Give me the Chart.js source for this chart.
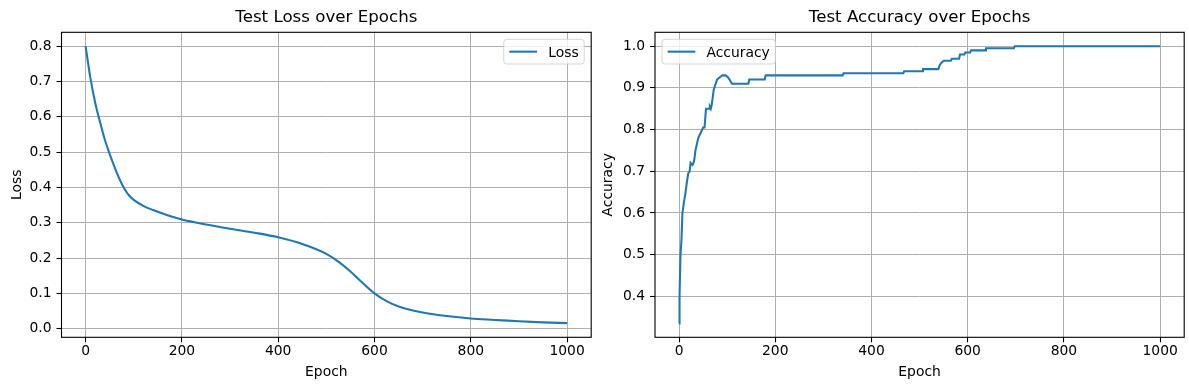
<!DOCTYPE html>
<html>
<head>
<meta charset="utf-8">
<title>Test Loss / Accuracy</title>
<script src="https://cdn.jsdelivr.net/npm/chart.js@4.4.0/dist/chart.umd.min.js"></script>
<style>
  html, body { margin: 0; padding: 0; background: #fff; }
  #wrap { position: relative; width: 1189px; height: 390px; }
  canvas { position: absolute; top: 0; }
</style>
</head>
<body>
<div id="wrap">
  <canvas id="loss-chart" width="595" height="390" style="left:0"></canvas>
  <canvas id="acc-chart" width="594" height="390" style="left:595px"></canvas>
</div>
<script>
// values
const lossEpochs = [0, 10, 20, 30, 40, 50, 60, 70, 80, 90, 100, 120, 140, 160, 180, 200, 250, 300, 350, 400, 450, 500, 525, 550, 575, 600, 625, 650, 700, 750, 800, 850, 900, 950, 1000];
const lossValues = [0.800, 0.710, 0.640, 0.585, 0.535, 0.495, 0.458, 0.425, 0.398, 0.378, 0.365, 0.348, 0.336, 0.326, 0.317, 0.309, 0.295, 0.283, 0.272, 0.259, 0.240, 0.212, 0.190, 0.162, 0.130, 0.100, 0.078, 0.063, 0.046, 0.036, 0.029, 0.025, 0.021, 0.018, 0.016];

const accEpochs = [0, 1, 3, 5, 7, 10, 13, 17, 19, 22, 24, 28, 30, 32, 34, 37, 40, 44, 48, 50, 53, 56, 63, 64, 66, 68, 72, 76, 79, 84, 90, 97, 102, 105, 110, 144, 146, 178, 180, 340, 342, 466, 468, 505, 507, 539, 542, 545, 550, 565, 567, 582, 584, 593, 595, 605, 607, 636, 638, 696, 698, 1000];
const accValues = [0.335, 0.40, 0.50, 0.535, 0.60, 0.625, 0.645, 0.68, 0.695, 0.70, 0.72, 0.715, 0.72, 0.73, 0.75, 0.765, 0.78, 0.79, 0.80, 0.805, 0.805, 0.85, 0.85, 0.855, 0.85, 0.86, 0.895, 0.91, 0.92, 0.925, 0.93, 0.93, 0.925, 0.92, 0.91, 0.91, 0.92, 0.92, 0.93, 0.93, 0.935, 0.935, 0.94, 0.94, 0.945, 0.945, 0.955, 0.96, 0.965, 0.965, 0.97, 0.97, 0.98, 0.98, 0.985, 0.985, 0.99, 0.99, 0.995, 0.995, 1.0, 1.0];

const epochTicks = [0, 200, 400, 600, 800, 1000];
const lossTicks = [0.0, 0.1, 0.2, 0.3, 0.4, 0.5, 0.6, 0.7, 0.8];
const accTicks = [0.4, 0.5, 0.6, 0.7, 0.8, 0.9, 1.0];

const FONT = "'DejaVu Sans', sans-serif";
const BLUE = "#1f77b4";
const SMALL = 13.89;
const LARGE = 16.67;

// matplotlib-like frame round the axes
const spines = {
  id: "spines",
  afterDraw(chart) {
    const { ctx, chartArea: a } = chart;
    ctx.save();
    ctx.strokeStyle = "#000";
    ctx.lineWidth = 1.1;
    ctx.strokeRect(a.left, a.top, a.right - a.left, a.bottom - a.top);
    ctx.restore();
  },
};

// legend box drawn inside the axes, as matplotlib does
const insideLegend = {
  id: "insideLegend",
  afterDatasetsDraw(chart, args, opts) {
    const { ctx, chartArea: a } = chart;
    const ds = chart.data.datasets[0];
    ctx.save();
    ctx.font = SMALL + "px " + FONT;
    const textW = ctx.measureText(ds.label).width;
    const pad = 0.4 * SMALL, handle = 2 * SMALL, gap = 0.8 * SMALL;
    const w = pad + handle + gap + textW + pad;
    const h = 24.7;
    const left = opts.side === "right" ? a.right - 7 - w : a.left + 7;
    const top = a.top + 7;

    ctx.beginPath();
    ctx.roundRect(left, top, w, h, 3);
    ctx.fillStyle = "rgba(255,255,255,0.8)";
    ctx.fill();
    ctx.strokeStyle = "rgba(204,204,204,0.8)";
    ctx.lineWidth = 1;
    ctx.stroke();

    const cy = top + h / 2;
    ctx.beginPath();
    ctx.moveTo(left + pad, cy);
    ctx.lineTo(left + pad + handle, cy);
    ctx.strokeStyle = ds.borderColor;
    ctx.lineWidth = ds.borderWidth;
    ctx.stroke();

    ctx.fillStyle = "#000";
    ctx.textBaseline = "alphabetic";
    ctx.fillText(ds.label, left + pad + handle + gap, cy + 5.05);
    ctx.restore();
  },
};

function fixedTicks(values) {
  return (scale) => {
    scale.ticks = values.map((v) => ({ value: v }));
  };
}

function buildChart(el, cfg) {
  return new Chart(el, {
    type: "line",
    data: {
      datasets: [
        {
          label: cfg.label,
          data: cfg.xs.map((x, i) => ({ x: x, y: cfg.ys[i] })),
          borderColor: BLUE,
          borderWidth: 2.08,
          pointRadius: 0,
          fill: false,
          tension: cfg.smooth ? 0.4 : 0,
          cubicInterpolationMode: cfg.smooth ? "monotone" : "default",
        },
      ],
    },
    options: {
      responsive: false,
      animation: false,
      devicePixelRatio: 1,
      layout: { padding: { left: 0, right: cfg.padRight, top: 0, bottom: 0 } },
      plugins: {
        legend: { display: false },
        tooltip: { enabled: false },
        title: {
          display: true,
          text: cfg.title,
          fullSize: false,
          color: "#000",
          font: { family: FONT, size: LARGE, weight: "normal", lineHeight: 1.2 },
          padding: { top: 8, bottom: 4.3 },
        },
        insideLegend: { side: cfg.legendSide },
      },
      scales: {
        x: {
          type: "linear",
          min: -50,
          max: 1050,
          afterBuildTicks: fixedTicks(epochTicks),
          afterFit: (s) => { s.height = 52.7; },
          grid: { color: "#b0b0b0", lineWidth: 1, tickColor: "#000", tickLength: 5, tickWidth: 1.1 },
          border: { display: false },
          ticks: {
            color: "#000",
            padding: 1,
            maxRotation: 0,
            font: { family: FONT, size: SMALL, lineHeight: 1.2 },
            callback: (v) => String(v),
          },
          title: {
            display: true,
            text: "Epoch",
            color: "#000",
            font: { family: FONT, size: SMALL, lineHeight: 1.2 },
            padding: { top: 0, bottom: 9.67 },
          },
        },
        y: {
          type: "linear",
          min: cfg.yMin,
          max: cfg.yMax,
          afterBuildTicks: fixedTicks(cfg.yTicks),
          afterFit: (s) => { s.width = cfg.yWidth; },
          grid: { color: "#b0b0b0", lineWidth: 1, tickColor: "#000", tickLength: 5, tickWidth: 1.1 },
          border: { display: false },
          ticks: {
            color: "#000",
            padding: 5,
            font: { family: FONT, size: SMALL, lineHeight: 1.2 },
            callback: (v) => v.toFixed(1),
          },
          title: {
            display: true,
            text: cfg.label,
            color: "#000",
            font: { family: FONT, size: SMALL, lineHeight: 1.2 },
            padding: { top: cfg.yTitlePad, bottom: 0 },
          },
        },
      },
    },
    plugins: [insideLegend, spines],
  });
}

buildChart(document.getElementById("loss-chart"), {
  label: "Loss",
  title: "Test Loss over Epochs",
  xs: lossEpochs,
  ys: lossValues,
  smooth: true,
  yMin: -0.0242,
  yMax: 0.8392,
  yTicks: lossTicks,
  yWidth: 61.5,
  yTitlePad: 8.8,
  padRight: 3.8,
  legendSide: "right",
});

buildChart(document.getElementById("acc-chart"), {
  label: "Accuracy",
  title: "Test Accuracy over Epochs",
  xs: accEpochs,
  ys: accValues,
  smooth: false,
  yMin: 0.3018,
  yMax: 1.0333,
  yTicks: accTicks,
  yWidth: 60,
  yTitlePad: 4.7,
  padRight: 4.8,
  legendSide: "left",
});
</script>
</body>
</html>
